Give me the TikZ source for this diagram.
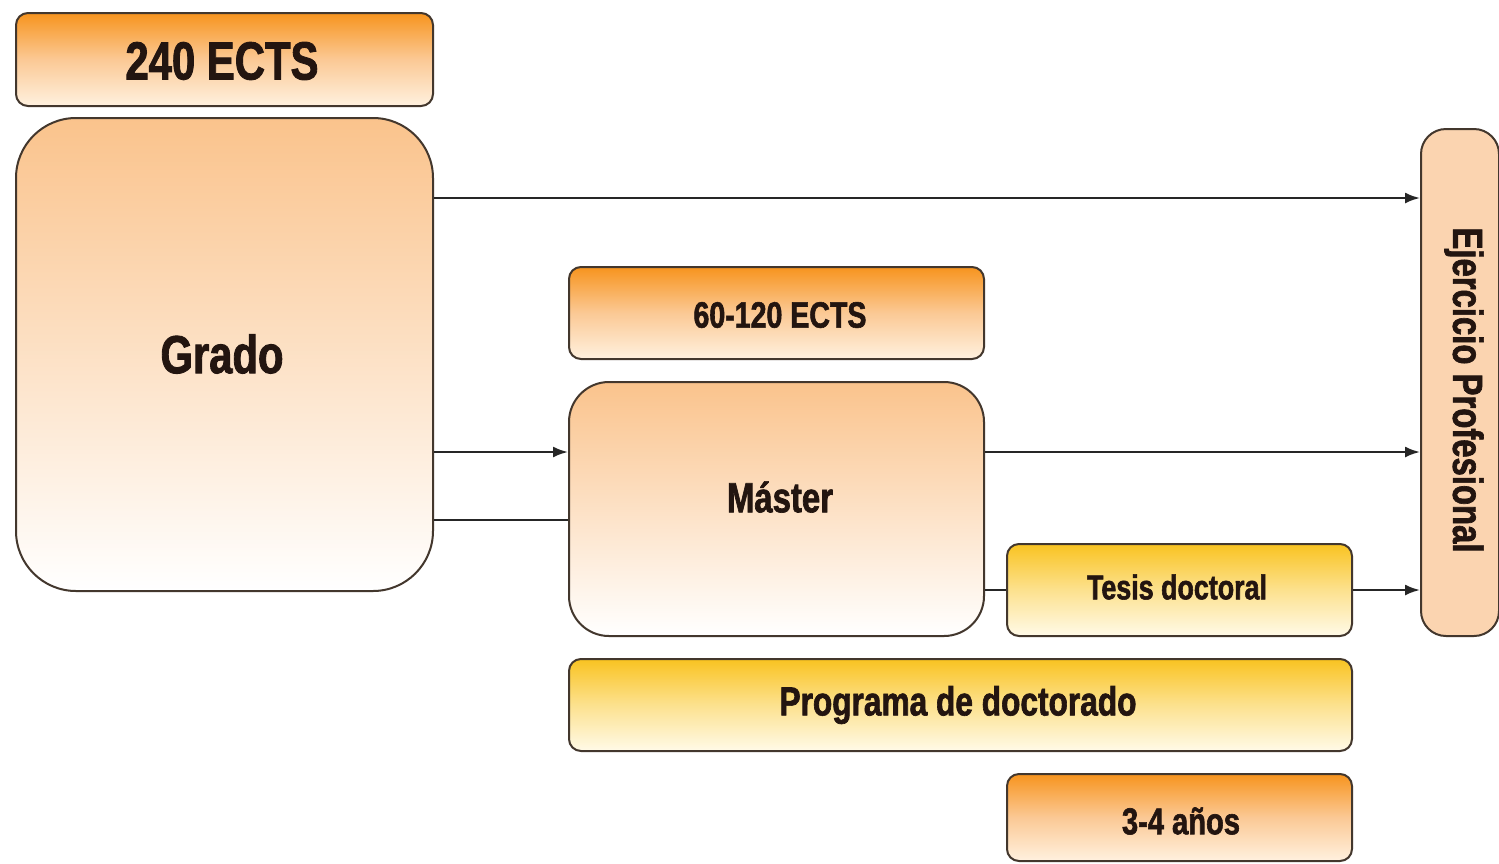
\documentclass[tikz,border=0pt]{standalone}
\usepackage{fontspec}
\newfontfamily\cond[FakeStretch=0.78, BoldFeatures={FakeBold=1.6}]{Liberation Sans}
\usetikzlibrary{arrows.meta,calc}
\definecolor{boxline}{HTML}{43372D}
\definecolor{txt}{HTML}{231510}
\definecolor{orA}{HTML}{F7941E}
\definecolor{orB}{HTML}{FBC995}
\definecolor{orC}{HTML}{FFF1DF}
\definecolor{peachT}{HTML}{FAC38C}
\definecolor{yelA}{HTML}{F9C321}
\definecolor{yelC}{HTML}{FFFAE8}
\definecolor{ejer}{HTML}{FBD4B0}
\begin{document}
\begin{tikzpicture}[x=1pt,y=-1pt,
  box/.style={draw=boxline, line width=2pt, rounded corners=12pt, anchor=north west, inner sep=0pt},
  orbox/.style={box, top color=orA, bottom color=orC, middle color=orB},
  softbox/.style={box, top color=peachT, bottom color=white},
  yelbox/.style={box, top color=yelA, bottom color=yelC, middle color=yelA!45!yelC},
  lbl/.style={font=\cond\bfseries, text=txt, inner sep=0pt},
  conn/.style={line width=2.2pt, draw=black!85},
  arr/.style={conn, -{Latex[length=15pt,width=11pt]}}]
\useasboundingbox (0,0) rectangle (1499,863);
\clip (0,0) rectangle (1499,863);
\fill[white] (0,0) rectangle (1499,863);

% boxes
\node[orbox, minimum width=417pt, minimum height=93pt] (ects240) at (15,12) {};
\node[softbox, rounded corners=60pt, minimum width=417pt, minimum height=473pt] (grado) at (15,117) {};
\node[orbox, minimum width=415pt, minimum height=92pt] (ects60) at (568,266) {};
\node[softbox, rounded corners=40pt, minimum width=415pt, minimum height=254pt] (master) at (568,381) {};
\node[yelbox, minimum width=345pt, minimum height=92pt] (tesis) at (1006,543) {};
\node[yelbox, minimum width=783pt, minimum height=92pt] (prog) at (568,658) {};
\node[orbox, minimum width=345pt, minimum height=87pt] (anios) at (1006,773) {};
\node[box, fill=ejer, rounded corners=25pt, minimum width=78pt, minimum height=507pt] (ejer) at (1420,128) {};

% labels
\node[lbl] (t240) at (222,61) {\resizebox{193pt}{!}{240 ECTS}};
\node[lbl] (tgrado) at (222,354) {\resizebox{123pt}{!}{Grado}};
\node[lbl] (t60) at (780,315) {\resizebox{173pt}{!}{60-120 ECTS}};
\node[lbl] (tmaster) at (780,497) {\resizebox{106pt}{!}{Máster}};
\node[lbl] (ttesis) at (1177,587) {\resizebox{180pt}{!}{Tesis doctoral}};
\node[lbl] (tprog) at (958,705) {\resizebox{357pt}{!}{Programa de doctorado}};
\node[lbl] (tanios) at (1181,821) {\resizebox{118pt}{!}{3-4 años}};
\node[lbl, rotate=-90] (tejer) at (1464,390) {\resizebox{325pt}{!}{Ejercicio Profesional}};

% connectors
\coordinate (l1) at (0,198);
\coordinate (l2) at (0,452);
\coordinate (l3) at (0,520);
\coordinate (l4) at (0,590);
\draw[arr] (grado.east |- l1) -- (ejer.west |- l1);
\draw[arr] (grado.east |- l2) -- (master.west |- l2);
\draw[conn] (grado.east |- l3) -- (master.west |- l3);
\draw[arr] (master.east |- l2) -- (ejer.west |- l2);
\draw[conn] (master.east |- l4) -- (tesis.west |- l4);
\draw[arr] (tesis.east |- l4) -- (ejer.west |- l4);
\end{tikzpicture}
\end{document}
